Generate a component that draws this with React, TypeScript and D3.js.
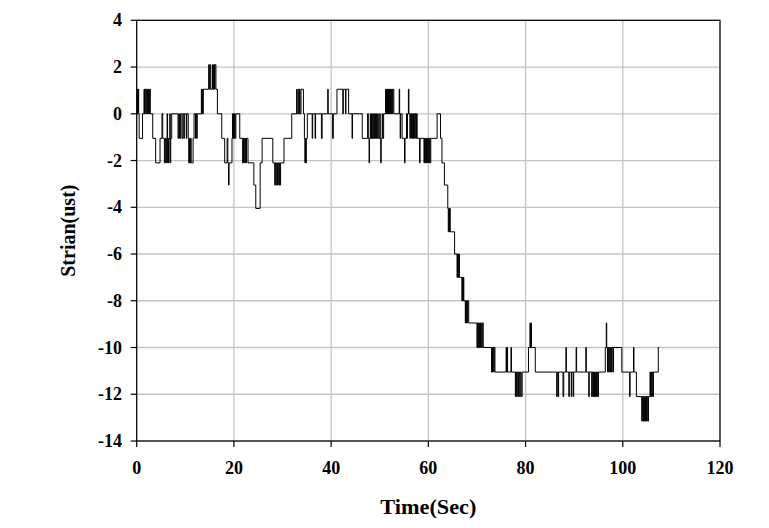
import React from "react";
import * as d3 from "d3";

// ---- data: [time (s), strain] step samples ----
const xTicks = [0, 20, 40, 60, 80, 100, 120];
const yTicks = [4, 2, 0, -2, -4, -6, -8, -10, -12, -14];

const phaseEarly: [number, number][] = [
  [0, 0], [0.15, 1.05], [0.25, 0], [0.3, 1.05], [0.4, 0], [0.5, -1.05], [1.2, 0], [1.5, 1.05], [1.6, 0],
  [1.7, 1.05], [1.85, 0], [1.95, 1.05], [2.1, 0], [2.2, 1.05], [2.35, 0], [2.45, 1.05], [2.6, 0], [2.7, 1.05],
  [2.8, 0], [3.3, -1.05], [3.9, -2.1], [4.8, -1.05], [5.2, 0], [5.35, -1.05], [5.7, -2.1], [5.85, -1.05],
  [6.0, -2.1], [6.1, -1.05], [6.25, 0], [6.35, -2.1], [6.45, -1.05], [6.55, -2.1], [6.65, -1.05], [6.8, 0],
  [6.9, -2.1], [7.0, -1.05], [7.2, 0], [8.5, -1.05], [8.65, 0], [8.8, -1.05], [9.0, 0], [9.3, -1.05], [9.5, 0],
  [9.7, -1.05], [9.8, 0], [10.2, -1.05], [10.3, 0], [10.6, -1.05], [10.7, -2.1], [10.85, -1.05], [10.95, -2.1],
  [11.1, -1.05], [11.2, -2.1], [11.6, -1.05], [11.8, 0], [12.1, -1.05], [12.2, 0], [12.35, -1.05], [12.45, 0],
  [13.3, 1.05], [13.4, 0], [13.5, 1.05], [13.6, 0], [13.7, 1.05], [14.8, 2.1], [14.95, 1.05], [15.1, 2.1],
  [15.25, 1.05], [15.6, 2.1], [15.75, 1.05], [15.85, 2.1], [16.0, 1.05], [16.1, 2.1], [16.3, 1.05], [16.6, 0],
  [17.5, -1.05], [18.1, -2.1], [18.6, -1.05], [18.75, -2.1], [18.9, -3.05], [19.0, -2.1], [19.6, -1.05],
  [19.7, 0], [19.8, -1.05], [19.9, 0], [20.0, -1.05], [20.1, 0], [20.25, -1.05], [20.4, 0], [21.2, -1.05],
  [21.8, -2.1], [21.9, -1.05], [22.0, -2.1], [22.1, -1.05], [22.25, -2.1], [22.35, -1.05], [22.5, -2.1],
  [22.6, -1.05], [22.9, -2.1], [24.1, -3.05], [24.5, -4.05], [25.4, -2.1], [25.8, -1.05], [28.0, -2.1],
  [28.4, -3.05], [28.5, -2.1], [28.65, -3.05], [28.8, -2.1], [28.95, -3.05], [29.1, -2.1], [29.25, -3.05],
  [29.4, -2.1], [29.5, -3.05], [29.6, -2.1], [30.3, -1.05], [31.9, 0], [32.9, 1.05], [33.0, 0], [33.2, 1.05],
  [33.35, 0], [33.5, 1.05], [33.6, 0], [33.8, 1.05], [34.3, 0], [34.5, -1.05], [34.6, -2.1], [34.7, -1.05],
  [34.8, -2.1], [34.9, -1.05], [35.1, 0], [36.1, -1.05], [36.2, 0], [36.7, -1.05], [36.8, 0],
];

const phaseMiddle: [number, number][] = [
  [38.0, -1.05], [38.15, 0], [39.3, 1.05], [39.4, 0], [40.3, -1.05], [40.45, 0], [41.2, 1.05], [42.4, 0],
  [42.5, 1.05], [42.95, 0], [43.05, 1.05], [43.6, 0], [44.3, -1.05], [44.4, 0], [46.4, -1.05], [47.5, 0],
  [47.65, -1.05], [47.8, -2.1], [47.9, -1.05], [48.05, 0], [48.15, -1.05], [48.3, 0], [48.4, -1.05],
  [48.55, 0], [48.65, -1.05], [48.8, 0], [48.9, -1.05], [49.05, 0], [49.15, -1.05], [49.35, 0], [49.45, -1.05],
  [49.6, 0], [49.7, -1.05], [50.0, 0], [50.1, -1.05], [50.2, -2.1], [50.3, -1.05], [50.5, 0], [50.6, -1.05],
  [50.8, 0], [51.2, 1.05], [51.3, 0], [51.4, 1.05], [51.5, 0], [51.6, 1.05], [51.7, 0], [51.8, 1.05],
  [51.9, 0], [52.0, 1.05], [52.1, 0], [52.2, 1.05], [52.35, 0], [52.45, 1.05], [52.6, 0], [52.7, 1.05],
  [52.9, 0], [54.0, 1.05], [54.1, 0], [54.2, -1.05], [54.3, 0], [54.6, -1.05], [55.1, -2.1], [55.2, -1.05],
  [55.5, 0], [55.6, -1.05], [55.7, 0], [55.9, 1.05], [56.0, 0], [56.2, -1.05], [56.3, 0], [56.45, -1.05],
  [56.55, 0], [56.7, -1.05], [56.8, 0], [56.95, -1.05], [57.05, 0], [57.2, -1.05], [57.3, 0], [57.45, -1.05],
  [57.55, 0], [57.7, -1.05], [58.2, -2.1], [58.3, -1.05], [59.1, -2.1], [59.2, -1.05], [59.35, -2.1],
  [59.45, -1.05], [59.6, -2.1], [59.7, -1.05], [59.85, -2.1], [59.95, -1.05], [60.1, -2.1], [60.2, -1.05],
  [60.35, -2.1], [60.5, -1.05], [61.8, 0], [62.5, -1.05], [62.8, -2.1],
];

const phaseDrop: [number, number][] = [
  [63.3, -3.05], [64.0, -4.05], [64.1, -5.05], [64.2, -4.05], [64.3, -5.05], [64.4, -4.05], [64.5, -5.05],
  [65.4, -6.0], [65.9, -7.0], [66.0, -6.0], [66.15, -7.0], [66.25, -6.0], [66.4, -7.0], [66.9, -8.0],
  [67.0, -7.0], [67.1, -8.0], [67.2, -7.0], [67.3, -8.0], [67.6, -8.95], [67.7, -8.0], [67.8, -8.95],
  [67.9, -8.0], [68.0, -8.95], [68.1, -8.0], [68.3, -8.95], [70.0, -10.0], [70.1, -8.95], [70.25, -10.0],
  [70.35, -8.95], [70.5, -10.0], [70.6, -8.95], [70.75, -10.0], [70.85, -8.95], [71.0, -10.0], [71.1, -8.95],
];

const phaseLate: [number, number][] = [
  [71.3, -10.0], [73.0, -11.05], [73.1, -10.0], [73.2, -11.05], [73.3, -10.0], [73.45, -11.05], [73.55, -10.0],
  [73.7, -11.05], [76.0, -10.0], [76.1, -11.05], [76.2, -10.0], [76.3, -11.05], [77.0, -10.0], [77.1, -11.05],
  [77.9, -12.1], [78.0, -11.05], [78.15, -12.1], [78.3, -11.05], [78.5, -12.1], [78.6, -11.05], [78.8, -12.1],
  [78.9, -11.05], [79.1, -12.1], [79.3, -11.05], [80.6, -10.0], [80.9, -8.95], [81.0, -10.0], [81.1, -8.95],
  [81.2, -10.0], [82.0, -11.05], [86.4, -12.1], [86.5, -11.05], [86.7, -12.1], [86.8, -11.05], [87.7, -12.1],
  [87.85, -11.05], [88.3, -10.0], [88.4, -11.05], [88.9, -12.1], [89.0, -11.05], [89.4, -12.1], [89.5, -11.05],
  [89.8, -12.1], [89.9, -11.05], [90.4, -10.0], [90.5, -11.05], [92.4, -10.0], [92.5, -11.05], [93.0, -12.1],
  [93.1, -11.05], [93.6, -12.1], [93.7, -11.05], [93.85, -12.1], [93.95, -11.05], [94.1, -12.1], [94.2, -11.05],
  [94.35, -12.1], [94.45, -11.05], [94.6, -12.1], [94.7, -11.05], [94.85, -12.1], [95.0, -11.05], [96.4, -10.0],
  [96.6, -8.95], [96.7, -10.0], [96.85, -11.05], [96.95, -10.0], [97.1, -11.05], [97.2, -10.0], [97.35, -11.05],
  [97.5, -10.0], [97.7, -11.05], [97.8, -10.0], [98.0, -11.05], [98.1, -10.0], [99.8, -11.05], [101.4, -12.1],
  [101.5, -11.05], [102.2, -10.0], [102.3, -11.05], [102.8, -12.1], [103.9, -13.15], [104.0, -12.1],
  [104.15, -13.15], [104.25, -12.1], [104.4, -13.15], [104.5, -12.1], [104.65, -13.15], [104.75, -12.1],
  [104.9, -13.15], [105.0, -12.1], [105.15, -13.15], [105.3, -12.1], [105.6, -11.05], [105.7, -12.1],
  [105.8, -11.05], [105.95, -12.1], [106.05, -11.05], [106.2, -12.1], [106.3, -11.05], [107.3, -10.0],
  [107.5, -10.0],
];

const W = 769;
const H = 528;
const left = 136.7;
const right = 720;
const top = 20.3;
const bottom = 441;
const FONT = "'Liberation Serif', 'Times New Roman', serif";

export default function App() {
  const x = d3.scaleLinear().domain([0, 120]).range([left, right]);
  const y = d3.scaleLinear().domain([-14, 4]).range([bottom, top]);
  const samples = [...phaseEarly, ...phaseMiddle, ...phaseDrop, ...phaseLate];
  const line = d3
    .line<[number, number]>()
    .x((d) => x(d[0]))
    .y((d) => y(d[1]))
    .curve(d3.curveStepAfter);

  return (
    <svg
      width={W}
      height={H}
      style={{ position: "absolute", left: 0, top: 0, background: "#fff" }}
      fontFamily={FONT}
    >
      <rect x={0} y={0} width={W} height={H} fill="#fff" />
      {xTicks.map((t) => (
        <line key={"gx" + t} x1={x(t)} x2={x(t)} y1={top} y2={bottom} stroke="#c4c4c4" strokeWidth={1.3} />
      ))}
      {yTicks.map((t) => (
        <line key={"gy" + t} x1={left} x2={right} y1={y(t)} y2={y(t)} stroke="#c4c4c4" strokeWidth={1.3} />
      ))}
      <rect x={left} y={top} width={right - left} height={bottom - top} fill="none" stroke="#000" strokeWidth={1.2} />
      {xTicks.map((t) => (
        <g key={"tx" + t}>
          <line x1={x(t)} x2={x(t)} y1={bottom} y2={bottom + 6} stroke="#000" strokeWidth={1.2} />
          <text x={x(t)} y={474} textAnchor="middle" fontSize={18} fontWeight="bold">
            {t}
          </text>
        </g>
      ))}
      {yTicks.map((t) => (
        <g key={"ty" + t}>
          <line x1={left - 6} x2={left} y1={y(t)} y2={y(t)} stroke="#000" strokeWidth={1.2} />
          <text x={122} y={y(t) + 6} textAnchor="end" fontSize={18} fontWeight="bold">
            {t}
          </text>
        </g>
      ))}
      <path d={line(samples) || ""} fill="none" stroke="#000" strokeWidth={1} />
      <text
        x={(left + right) / 2}
        y={514}
        textAnchor="middle"
        fontSize={21}
        fontWeight="bold"
        textLength={96}
        lengthAdjust="spacingAndGlyphs"
      >
        Time(Sec)
      </text>
      <text
        transform={`translate(75, ${(top + bottom) / 2}) rotate(-90)`}
        textAnchor="middle"
        fontSize={20}
        fontWeight="bold"
      >
        Strian(ust)
      </text>
    </svg>
  );
}
